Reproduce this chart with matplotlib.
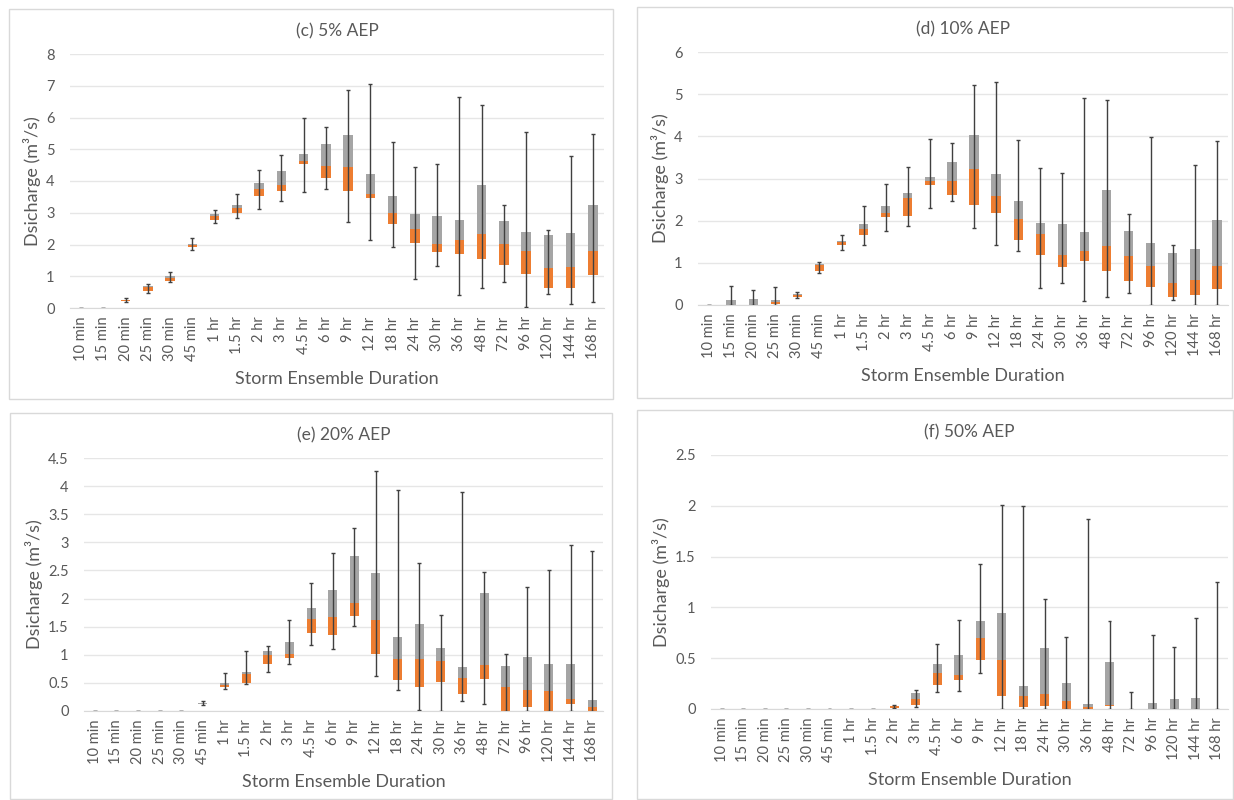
"""
plot.py - box plots of discharge per storm ensemble duration, four AEPs
"""

import matplotlib
matplotlib.use("Agg")
import matplotlib.pyplot as plt
from matplotlib.patches import Rectangle

plt.rcParams['font.family'] = ['Lato', 'DejaVu Sans']

durations = ['10 min', '15 min', '20 min', '25 min', '30 min', '45 min', '1 hr', '1.5 hr',
             '2 hr', '3 hr', '4.5 hr', '6 hr', '9 hr', '12 hr', '18 hr', '24 hr', '30 hr',
             '36 hr', '48 hr', '72 hr', '96 hr', '120 hr', '144 hr', '168 hr']

# (c) 5% AEP
c_min = [0, 0, 0.20, 0.48, 0.82, 1.83, 2.68, 2.82, 3.12, 3.38, 3.64, 3.74, 2.70, 2.13,
         1.93, 0.92, 1.33, 0.42, 0.64, 0.83, 0.02, 0.45, 0.14, 0.20]
c_q1 = [0, 0, 0.22, 0.55, 0.86, 1.91, 2.76, 2.99, 3.54, 3.67, 4.52, 4.11, 3.69, 3.48,
        2.64, 2.06, 1.75, 1.71, 1.54, 1.34, 1.07, 0.63, 0.63, 1.05]
c_med = [0, 0, 0.24, 0.65, 0.94, 1.97, 2.90, 3.14, 3.74, 3.86, 4.62, 4.47, 4.43, 3.60,
         3.00, 2.48, 2.03, 2.13, 2.32, 2.03, 1.81, 1.25, 1.29, 1.78]
c_q3 = [0, 0, 0.26, 0.68, 1.02, 2.00, 2.96, 3.23, 3.95, 4.30, 4.84, 5.17, 5.45, 4.21,
        3.54, 2.96, 2.89, 2.76, 3.88, 2.74, 2.39, 2.31, 2.36, 3.25]
c_max = [0, 0, 0.30, 0.76, 1.14, 2.22, 3.08, 3.60, 4.36, 4.82, 6.00, 5.69, 6.86, 7.04,
         5.24, 4.44, 4.54, 6.63, 6.38, 3.24, 5.55, 2.46, 4.79, 5.49]

# (d) 10% AEP
d_min = [0, 0, 0, 0, 0.17, 0.77, 1.30, 1.43, 1.75, 1.88, 2.30, 2.47, 1.82, 1.42,
         1.29, 0.40, 0.52, 0.10, 0.20, 0.29, 0.00, 0.12, 0.00, 0.00]
d_q1 = [0, 0, 0, 0.03, 0.19, 0.81, 1.42, 1.65, 2.08, 2.12, 2.84, 2.60, 2.38, 2.18,
        1.54, 1.19, 0.89, 1.04, 0.80, 0.58, 0.42, 0.18, 0.23, 0.37]
d_med = [0, 0.01, 0.01, 0.08, 0.24, 0.94, 1.49, 1.81, 2.17, 2.53, 2.95, 2.95, 3.23, 2.59,
         2.05, 1.68, 1.19, 1.29, 1.39, 1.17, 0.92, 0.52, 0.60, 0.92]
d_q3 = [0, 0.13, 0.14, 0.11, 0.26, 0.98, 1.52, 1.91, 2.35, 2.66, 3.03, 3.38, 4.02, 3.11,
        2.46, 1.94, 1.91, 1.73, 2.73, 1.76, 1.46, 1.23, 1.32, 2.02]
d_max = [0, 0.46, 0.36, 0.42, 0.30, 1.02, 1.65, 2.35, 2.87, 3.27, 3.94, 3.85, 5.22, 5.29,
         3.91, 3.25, 3.12, 4.90, 4.85, 2.16, 3.98, 1.42, 3.32, 3.88]

# (e) 20% AEP
e_min = [0, 0, 0, 0, 0, 0.10, 0.40, 0.48, 0.70, 0.83, 1.17, 1.10, 1.52, 0.63,
         0.37, 0.01, 0.00, 0.17, 0.12, 0.00, 0.00, 0.00, 0.00, 0.00]
e_q1 = [0, 0, 0, 0, 0, 0.12, 0.42, 0.49, 0.83, 0.95, 1.39, 1.36, 1.69, 1.02,
        0.56, 0.42, 0.51, 0.30, 0.57, 0.00, 0.07, 0.00, 0.12, 0.00]
e_med = [0, 0, 0, 0, 0, 0.12, 0.46, 0.65, 0.99, 1.02, 1.63, 1.67, 1.92, 1.61,
         0.92, 0.92, 0.89, 0.58, 0.81, 0.43, 0.37, 0.35, 0.21, 0.08]
e_q3 = [0, 0, 0, 0, 0, 0.14, 0.49, 0.70, 1.07, 1.22, 1.84, 2.16, 2.76, 2.45,
        1.32, 1.54, 1.12, 0.78, 2.09, 0.80, 0.96, 0.84, 0.84, 0.20]
e_max = [0, 0, 0, 0, 0, 0.18, 0.67, 1.07, 1.16, 1.61, 2.27, 2.81, 3.26, 4.27,
         3.93, 2.64, 1.70, 3.89, 2.48, 1.02, 2.20, 2.50, 2.95, 2.84]

# (f) 50% AEP
f_min = [0, 0, 0, 0, 0, 0, 0, 0, 0.01, 0.02, 0.17, 0.18, 0.35, 0.00,
         0.00, 0.00, 0.00, 0.00, 0.00, 0.00, 0.00, 0.00, 0.00, 0.00]
f_q1 = [0, 0, 0, 0, 0, 0, 0, 0, 0.01, 0.04, 0.24, 0.29, 0.48, 0.13,
        0.02, 0.03, 0.00, 0.00, 0.03, 0.00, 0.00, 0.00, 0.00, 0.00]
f_med = [0, 0, 0, 0, 0, 0, 0, 0, 0.025, 0.10, 0.35, 0.33, 0.70, 0.48,
         0.13, 0.15, 0.08, 0.02, 0.04, 0.00, 0.00, 0.00, 0.00, 0.00]
f_q3 = [0, 0, 0, 0, 0, 0, 0, 0, 0.03, 0.16, 0.44, 0.53, 0.87, 0.94,
        0.23, 0.60, 0.26, 0.05, 0.46, 0.00, 0.06, 0.10, 0.11, 0.00]
f_max = [0, 0, 0, 0, 0, 0, 0, 0, 0.04, 0.19, 0.64, 0.88, 1.43, 2.01,
         2.00, 1.08, 0.71, 1.87, 0.87, 0.17, 0.73, 0.61, 0.90, 1.25]

ORANGE = '#ED7D31'
GREY = '#A5A5A5'
TEXT = '#595959'
W, H = 1234, 800


def px_axes(fig, x0, x1, y_bottom, y_top):
    # convert pixel positions (from top-left) into figure fractions
    return fig.add_axes([x0 / W, 1 - y_bottom / H, (x1 - x0) / W, (y_bottom - y_top) / H])


def panel(fig, box, plot, title, ymax, ystep, mn, q1, med, q3, mx):
    bx0, by0, bx1, by1 = box
    fig.patches.append(Rectangle((bx0 / W, 1 - by1 / H), (bx1 - bx0) / W, (by1 - by0) / H,
                                 transform=fig.transFigure, fill=False,
                                 edgecolor='#D9D9D9', linewidth=1))
    ax = px_axes(fig, *plot)
    x = list(range(len(durations)))
    low = [m - a for m, a in zip(med, q1)]
    high = [b - m for b, m in zip(q3, med)]
    ax.bar(x, low, bottom=q1, width=0.42, color=ORANGE, zorder=2)
    ax.bar(x, high, bottom=med, width=0.42, color=GREY, zorder=2)
    # whiskers drawn over the boxes
    ax.vlines(x, mn, mx, color='#404040', linewidth=1, zorder=3)
    ax.hlines(mn, [i - 0.09 for i in x], [i + 0.09 for i in x], color='#404040', linewidth=1, zorder=3)
    ax.hlines(mx, [i - 0.09 for i in x], [i + 0.09 for i in x], color='#404040', linewidth=1, zorder=3)

    ax.set_xlim(-0.5, len(durations) - 0.5)
    ax.set_ylim(0, ymax)
    ticks = [round(i * ystep, 2) for i in range(int(round(ymax / ystep)) + 1)]
    ax.set_yticks(ticks)
    ax.set_yticklabels([f'{t:g}' for t in ticks])
    ax.set_xticks(x)
    ax.set_xticklabels(durations, rotation=90)
    ax.tick_params(axis='both', length=0, labelsize=10.5, colors=TEXT)
    ax.tick_params(axis='y', pad=11)
    ax.tick_params(axis='x', pad=6)
    ax.grid(axis='y', color='#E6E6E6', linewidth=1, zorder=0)
    ax.set_axisbelow(True)
    for side in ['top', 'right', 'left']:
        ax.spines[side].set_visible(False)
    ax.spines['bottom'].set_color('#D9D9D9')
    ax.set_ylabel('Dsicharge (m³/s)', fontsize=13, color=TEXT, labelpad=4)
    ax.set_xlabel('Storm Ensemble Duration', fontsize=13, color=TEXT, labelpad=7)
    ax.set_title(title, fontsize=12.5, color=TEXT, pad=13)
    return ax


fig = plt.figure(figsize=(12.34, 8), dpi=100)
fig.patch.set_facecolor('white')

panel(fig, (9, 9, 613, 399), (70, 604, 308, 54), '(c) 5% AEP', 8, 1,
      c_min, c_q1, c_med, c_q3, c_max)
panel(fig, (637, 7, 1232, 398), (698, 1228, 305, 52), '(d) 10% AEP', 6, 1,
      d_min, d_q1, d_med, d_q3, d_max)
panel(fig, (10, 413, 612, 799), (84, 603, 711, 458), '(e) 20% AEP', 4.5, 0.5,
      e_min, e_q1, e_med, e_q3, e_max)
panel(fig, (637, 410, 1233, 799), (711, 1228, 709, 455), '(f) 50% AEP', 2.5, 0.5,
      f_min, f_q1, f_med, f_q3, f_max)

fig.savefig('out.png', dpi=100)
